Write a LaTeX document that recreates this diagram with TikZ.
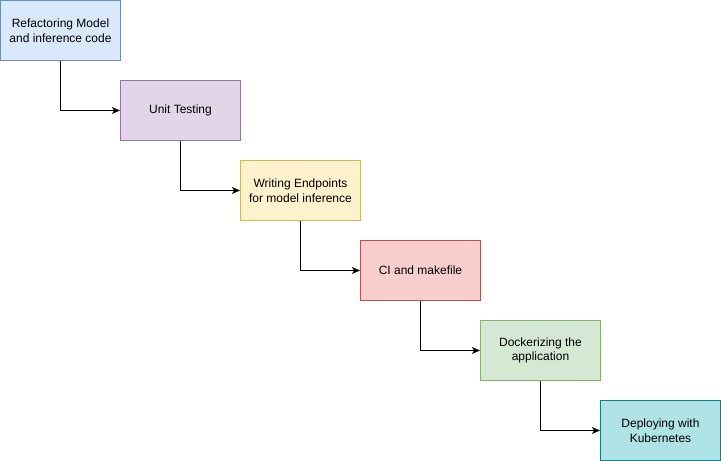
\documentclass[tikz,border=0pt]{standalone}
\usepackage{fontspec}
\setmainfont{Liberation Sans}
\usetikzlibrary{arrows.meta}
\definecolor{bluefill}{HTML}{DAE8FC}\definecolor{bluedraw}{HTML}{6C8EBF}
\definecolor{purplefill}{HTML}{E1D5E7}\definecolor{purpledraw}{HTML}{9673A6}
\definecolor{yellowfill}{HTML}{FFF2CC}\definecolor{yellowdraw}{HTML}{D6B656}
\definecolor{redfill}{HTML}{F8CECC}\definecolor{reddraw}{HTML}{B85450}
\definecolor{greenfill}{HTML}{D5E8D4}\definecolor{greendraw}{HTML}{82B366}
\definecolor{tealfill}{HTML}{B0E3E6}\definecolor{tealdraw}{HTML}{0E8088}
\tikzset{stage/.style={draw, line width=1pt, minimum width=120pt, minimum height=60pt,
  inner sep=0pt, align=center, font=\fontsize{12}{14.5}\selectfont},
  flow/.style={line width=1pt, -{Stealth[length=8pt, width=7pt, inset=2pt]}}}

\begin{document}
\begin{tikzpicture}[x=1pt, y=-1pt]
  \useasboundingbox (0, 0) rectangle (721, 461);
  \node[stage, fill=bluefill, draw=bluedraw] at (60.5, 30.5) (refactor)
    {Refactoring Model\\and inference code};
  \node[stage, fill=purplefill, draw=purpledraw] at (180.5, 110.5) (unit)
    {Unit Testing};
  \node[stage, fill=yellowfill, draw=yellowdraw] at (300.5, 190.5) (endpoints)
    {Writing Endpoints\\for model inference};
  \node[stage, fill=redfill, draw=reddraw] at (420.5, 270.5) (ci)
    {CI and makefile};
  \node[stage, fill=greenfill, draw=greendraw] at (540.5, 350.5) (docker)
    {Dockerizing the\\application};
  \node[stage, fill=tealfill, draw=tealdraw] at (660.5, 430.5) (deploy)
    {Deploying with\\Kubernetes};

  \draw[flow] (refactor.south) |- (unit.west);
  \draw[flow] (unit.south) |- (endpoints.west);
  \draw[flow] (endpoints.south) |- (ci.west);
  \draw[flow] (ci.south) |- (docker.west);
  \draw[flow] (docker.south) |- (deploy.west);
\end{tikzpicture}
\end{document}
